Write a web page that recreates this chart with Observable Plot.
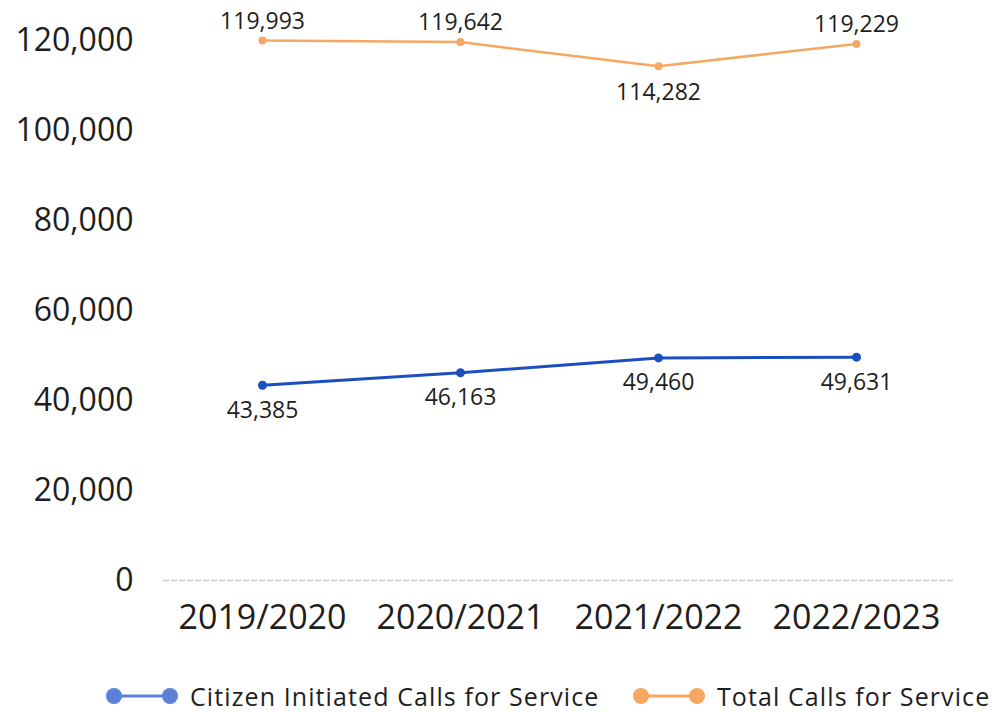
<!DOCTYPE html>
<html>
<head>
<meta charset="utf-8">
<script src="https://cdn.jsdelivr.net/npm/d3@7"></script>
<script src="https://cdn.jsdelivr.net/npm/@observablehq/plot@0.6"></script>
<style>
  html, body { margin: 0; padding: 0; background: #fff; }
  body { width: 998px; height: 712px; overflow: hidden; font-family: "Open Sans", sans-serif; }
  #legend { position: absolute; left: 0; top: 682px; width: 998px; height: 28px; }
  .item { position: absolute; top: 0; display: flex; align-items: center; height: 28px; line-height: 28px; font-size: 25px; letter-spacing: 1.1px; color: #1e1e1e; white-space: nowrap; }
  .item svg { margin-right: 10px; }
</style>
</head>
<body>
<div id="chart"></div>
<div id="legend"></div>
<script>
const years = ["2019/2020", "2020/2021", "2021/2022", "2022/2023"];
const citizenCalls = [43385, 46163, 49460, 49631];
const totalCalls = [119993, 119642, 114282, 119229];
const yTicks = [0, 20000, 40000, 60000, 80000, 100000, 120000];
const seriesNames = ["Citizen Initiated Calls for Service", "Total Calls for Service"];
const lineColors = ["#1b4fc0", "#f6a863"];
const swatchColors = ["#5b82d8", "#f6a863"];

const citizenRows = years.map((y, i) => ({year: y, value: citizenCalls[i]}));
const totalRows = years.map((y, i) => ({year: y, value: totalCalls[i]}));
const minTotal = d3.min(totalCalls);
const fmt = d3.format(",");

const chart = Plot.plot({
  width: 998,
  height: 672,
  marginLeft: 163,
  marginRight: 43,
  marginTop: 40,
  marginBottom: 92,
  style: {fontFamily: "Open Sans, sans-serif", color: "#1e1e1e", background: "#fff"},
  x: {domain: years, type: "point", padding: 0.5, label: null},
  y: {domain: [0, 120000], label: null},
  marks: [
    Plot.ruleY([0], {stroke: "#ccc", strokeWidth: 1.5, strokeDasharray: "6,2"}),
    Plot.axisY({ticks: yTicks, tickSize: 0, tickPadding: 30, fontSize: 32, tickFormat: fmt, label: null}),
    Plot.axisX({tickSize: 0, tickPadding: 24, fontSize: 34, label: null}),
    Plot.line(totalRows, {x: "year", y: "value", stroke: lineColors[1], strokeWidth: 2.5}),
    Plot.dot(totalRows, {x: "year", y: "value", fill: lineColors[1], r: 4}),
    Plot.line(citizenRows, {x: "year", y: "value", stroke: lineColors[0], strokeWidth: 3}),
    Plot.dot(citizenRows, {x: "year", y: "value", fill: lineColors[0], r: 4.5}),
    Plot.text(totalRows.filter(d => d.value !== minTotal), {x: "year", y: "value", text: d => fmt(d.value), dy: -19, fontSize: 23, fill: "#1e1e1e"}),
    Plot.text(totalRows.filter(d => d.value === minTotal), {x: "year", y: "value", text: d => fmt(d.value), dy: 26, fontSize: 23, fill: "#1e1e1e"}),
    Plot.text(citizenRows, {x: "year", y: "value", text: d => fmt(d.value), dy: 25, fontSize: 23, fill: "#1e1e1e"})
  ]
});
document.getElementById("chart").appendChild(chart);

const legend = document.getElementById("legend");
const lefts = [104, 631];
seriesNames.forEach((name, i) => {
  const item = document.createElement("div");
  item.className = "item";
  item.style.left = lefts[i] + "px";
  item.innerHTML = `<svg width="76" height="20"><line x1="10" y1="10" x2="66" y2="10" stroke="${swatchColors[i]}" stroke-width="3"/><circle cx="10" cy="10" r="8" fill="${swatchColors[i]}"/><circle cx="66" cy="10" r="8" fill="${swatchColors[i]}"/></svg><span>${name}</span>`;
  legend.appendChild(item);
});
</script>
</body>
</html>
